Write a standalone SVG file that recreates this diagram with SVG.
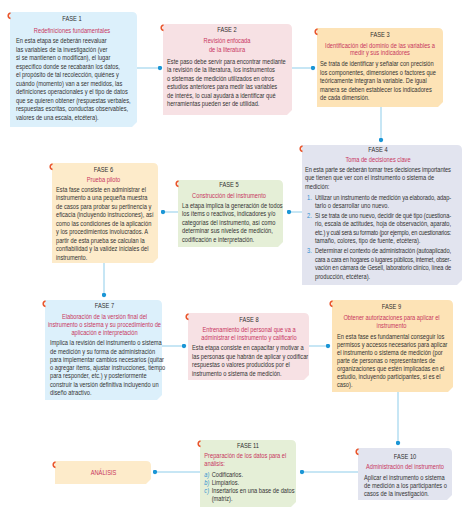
<svg xmlns="http://www.w3.org/2000/svg" width="466" height="512" viewBox="0 0 466 512">
<style>
.bg{fill:#ffffff}
.blue{fill:#dcf0fb}
.pink{fill:#f7e1e4}
.orange{fill:#fde3b6}
.cream{fill:#fdebca}
.lav{fill:#e2e4ef}
.green{fill:#e5efd7}
.tab{fill:none;stroke:#e9552b;stroke-width:1.6}
text{font-family:"Liberation Sans",Arial,sans-serif;font-size:7px}
.f{fill:#2e2e2e;text-anchor:middle}
.h{fill:#c8365e}
.hm{fill:#c8365e;text-anchor:middle}
.b{fill:#333333}
.n{fill:#2f8fd0}
.c{stroke:#8fcdea;stroke-width:1;fill:none;marker-end:url(#dot)}
</style>
<defs>
<marker id="dot" viewBox="0 0 6 6" refX="3" refY="3" markerWidth="5" markerHeight="5" markerUnits="userSpaceOnUse">
<circle cx="3" cy="3" r="2.6" fill="#1b96d6"/>
</marker>
</defs>
<rect class="bg" x="0" y="0" width="466" height="512"/>

<g id="connectors">
<line class="c" x1="137" y1="68" x2="160" y2="68"/>
<line class="c" x1="292" y1="68" x2="313" y2="68"/>
<line class="c" x1="381" y1="107" x2="381" y2="140"/>
<line class="c" x1="302" y1="212" x2="289" y2="212"/>
<line class="c" x1="178" y1="212" x2="163" y2="212"/>
<line class="c" x1="104" y1="263" x2="104" y2="295"/>
<line class="c" x1="162" y1="346" x2="184" y2="346"/>
<line class="c" x1="309" y1="346" x2="328" y2="346"/>
<line class="c" x1="398" y1="392" x2="398" y2="443"/>
<line class="c" x1="358" y1="472" x2="302" y2="472"/>
<line class="c" x1="200" y1="472" x2="155" y2="472"/>
</g>

<g id="fase1">
<path class="blue" d="M10 12 H132 Q137 12 137 17 V122 L132 127 H10 Z"/>
<path class="tab" d="M10.5 13 a2.8 2.8 0 0 0 0 5.5"/>
<g transform="translate(72,0) scale(0.815,1)">
<text class="f" x="0" y="21.5">FASE 1</text>
<text class="hm" x="0" y="33">Redefiniciones fundamentales</text>
</g>
<g transform="translate(16,0) scale(0.815,1)" class="b">
<text x="0" y="43.5">En esta etapa se deberán reevaluar</text>
<text x="0" y="52">las variables de la investigación (ver</text>
<text x="0" y="60.5">si se mantienen o modifican), el lugar</text>
<text x="0" y="69">específico donde se recabarán los datos,</text>
<text x="0" y="77.5">el propósito de tal recolección, quiénes y</text>
<text x="0" y="86">cuándo (momento) van a ser medidos, las</text>
<text x="0" y="94.5">definiciones operacionales y el tipo de datos</text>
<text x="0" y="103">que se quieren obtener (respuestas verbales,</text>
<text x="0" y="111.5">respuestas escritas, conductas observables,</text>
<text x="0" y="120">valores de una escala, etcétera).</text>
</g>
</g>

<g id="fase2">
<path class="pink" d="M163 24 H287 Q292 24 292 29 V110 L287 115 H163 Z"/>
<path class="tab" d="M163.5 25 a2.8 2.8 0 0 0 0 5.5"/>
<g transform="translate(227,0) scale(0.815,1)">
<text class="f" x="0" y="32.5">FASE 2</text>
<text class="hm" x="0" y="43.5">Revisión enfocada</text>
<text class="hm" x="0" y="52.5">de la literatura</text>
</g>
<g transform="translate(167,0) scale(0.815,1)" class="b">
<text x="0" y="64">Este paso debe servir para encontrar mediante</text>
<text x="0" y="72.5">la revisión de la literatura, los instrumentos</text>
<text x="0" y="81">o sistemas de medición utilizados en otros</text>
<text x="0" y="89.5">estudios anteriores para medir las variables</text>
<text x="0" y="98">de interés, lo cual ayudará a identificar qué</text>
<text x="0" y="106.5">herramientas pueden ser de utilidad.</text>
</g>
</g>

<g id="fase3">
<path class="orange" d="M317 28 H438 Q443 28 443 33 V102 L438 107 H317 Z"/>
<path class="tab" d="M317.5 29 a2.8 2.8 0 0 0 0 5.5"/>
<g transform="translate(380,0) scale(0.815,1)">
<text class="f" x="0" y="37">FASE 3</text>
<text class="hm" x="0" y="48">Identificación del dominio de las variables a</text>
<text class="hm" x="0" y="55.5">medir y sus indicadores</text>
</g>
<g transform="translate(320,0) scale(0.815,1)" class="b">
<text x="0" y="66.5">Se trata de identificar y señalar con precisión</text>
<text x="0" y="75">los componentes, dimensiones o factores que</text>
<text x="0" y="83.5">teóricamente integran la variable. De igual</text>
<text x="0" y="92">manera se deben establecer los indicadores</text>
<text x="0" y="100.5">de cada dimensión.</text>
</g>
</g>

<g id="fase4">
<path class="lav" d="M302 145 H457 Q462 145 462 150 V280 L457 285 H302 Z"/>
<path class="tab" d="M302.5 146 a2.8 2.8 0 0 0 0 5.5"/>
<g transform="translate(378,0) scale(0.815,1)">
<text class="f" x="0" y="152.5">FASE 4</text>
<text class="hm" x="0" y="162">Toma de decisiones clave</text>
</g>
<g transform="translate(305,0) scale(0.815,1)" class="b">
<text x="0" y="172" textLength="179" lengthAdjust="spacing">En esta parte se deberán tomar tres decisiones importantes</text>
<text x="0" y="180.5">que tienen que ver con el instrumento o sistema de</text>
<text x="0" y="189">medición:</text>
<text class="n" x="2.5" y="200">1.</text>
<text class="n" x="2.5" y="218">2.</text>
<text class="n" x="2.5" y="253.5">3.</text>
<text x="12.3" y="200" textLength="167" lengthAdjust="spacing">Utilizar un instrumento de medición ya elaborado, adap-</text>
<text x="12.3" y="208.5">tarlo o desarrollar uno nuevo.</text>
<text x="12.3" y="218" textLength="167" lengthAdjust="spacing">Si se trata de uno nuevo, decidir de qué tipo (cuestiona-</text>
<text x="12.3" y="226.5" textLength="167" lengthAdjust="spacing">rio, escala de actitudes, hoja de observación, aparato,</text>
<text x="12.3" y="235" textLength="167" lengthAdjust="spacing">etc.) y cuál será su formato (por ejemplo, en cuestionarios:</text>
<text x="12.3" y="243.5">tamaño, colores, tipo de fuente, etcétera).</text>
<text x="12.3" y="253.5" textLength="167" lengthAdjust="spacing">Determinar el contexto de administración (autoaplicado,</text>
<text x="12.3" y="262" textLength="167" lengthAdjust="spacing">cara a cara en hogares o lugares públicos, internet, obser-</text>
<text x="12.3" y="270.5" textLength="167" lengthAdjust="spacing">vación en cámara de Gesell, laboratorio clínico, línea de</text>
<text x="12.3" y="279">producción, etcétera).</text>
</g>
</g>

<g id="fase5">
<path class="green" d="M178 180 H278 Q283 180 283 185 V242 L278 247 H178 Z"/>
<path class="tab" d="M178.5 181 a2.8 2.8 0 0 0 0 5.5"/>
<g transform="translate(229,0) scale(0.815,1)">
<text class="f" x="0" y="187.5">FASE 5</text>
<text class="hm" x="0" y="198">Construcción del instrumento</text>
</g>
<g transform="translate(182,0) scale(0.815,1)" class="b">
<text x="0" y="208">La etapa implica la generación de todos</text>
<text x="0" y="216.5">los ítems o reactivos, indicadores y/o</text>
<text x="0" y="225">categorías del instrumento, así como</text>
<text x="0" y="233.5">determinar sus niveles de medición,</text>
<text x="0" y="242">codificación e interpretación.</text>
</g>
</g>

<g id="fase6">
<path class="cream" d="M52 163 H153 Q158 163 158 168 V258 L153 263 H52 Z"/>
<path class="tab" d="M52.5 164 a2.8 2.8 0 0 0 0 5.5"/>
<g transform="translate(103.5,0) scale(0.815,1)">
<text class="f" x="0" y="172">FASE 6</text>
<text class="hm" x="0" y="182">Prueba piloto</text>
</g>
<g transform="translate(56,0) scale(0.815,1)" class="b">
<text x="0" y="192">Esta fase consiste en administrar el</text>
<text x="0" y="200.5">instrumento a una pequeña muestra</text>
<text x="0" y="209">de casos para probar su pertinencia y</text>
<text x="0" y="217.5">eficacia (incluyendo instrucciones), así</text>
<text x="0" y="226">como las condiciones de la aplicación</text>
<text x="0" y="234.5">y los procedimientos involucrados. A</text>
<text x="0" y="243">partir de esta prueba se calculan la</text>
<text x="0" y="251.5">confiabilidad y la validez iniciales del</text>
<text x="0" y="260">instrumento.</text>
</g>
</g>

<g id="fase7">
<path class="blue" d="M45 300 H157 Q162 300 162 305 V395 L157 400 H45 Z"/>
<path class="tab" d="M45.5 301 a2.8 2.8 0 0 0 0 5.5"/>
<g transform="translate(104.5,0) scale(0.815,1)">
<text class="f" x="0" y="308">FASE 7</text>
<text class="hm" x="0" y="319">Elaboración de la versión final del</text>
<text class="hm" x="0" y="327">instrumento o sistema y su procedimiento de</text>
<text class="hm" x="0" y="335">aplicación e interpretación</text>
</g>
<g transform="translate(50,0) scale(0.815,1)" class="b">
<text x="0" y="345.5">Implica la revisión del instrumento o sistema</text>
<text x="0" y="354">de medición y su forma de administración</text>
<text x="0" y="362">para implementar cambios necesarios (quitar</text>
<text x="0" y="370.5">o agregar ítems, ajustar instrucciones, tiempo</text>
<text x="0" y="378.5">para responder, etc.) y posteriormente</text>
<text x="0" y="387">construir la versión definitiva incluyendo un</text>
<text x="0" y="395">diseño atractivo.</text>
</g>
</g>

<g id="fase8">
<path class="pink" d="M188 313 H304 Q309 313 309 318 V375 L304 380 H188 Z"/>
<path class="tab" d="M188.5 314 a2.8 2.8 0 0 0 0 5.5"/>
<g transform="translate(249,0) scale(0.815,1)">
<text class="f" x="0" y="322">FASE 8</text>
<text class="hm" x="0" y="332">Entrenamiento del personal que va a</text>
<text class="hm" x="0" y="340">administrar el instrumento y calificarlo</text>
</g>
<g transform="translate(192,0) scale(0.815,1)" class="b">
<text x="0" y="350.5">Esta etapa consiste en capacitar y motivar a</text>
<text x="0" y="359">las personas que habrán de aplicar y codificar</text>
<text x="0" y="367.5">respuestas o valores producidos por el</text>
<text x="0" y="376">instrumento o sistema de medición.</text>
</g>
</g>

<g id="fase9">
<path class="orange" d="M332 300 H448 Q453 300 453 305 V387 L448 392 H332 Z"/>
<path class="tab" d="M332.5 301 a2.8 2.8 0 0 0 0 5.5"/>
<g transform="translate(391.5,0) scale(0.815,1)">
<text class="f" x="0" y="309.5">FASE 9</text>
<text class="hm" x="0" y="320.5">Obtener autorizaciones para aplicar el</text>
<text class="hm" x="0" y="328.5">instrumento</text>
</g>
<g transform="translate(337,0) scale(0.815,1)" class="b">
<text x="0" y="339">En esta fase es fundamental conseguir los</text>
<text x="0" y="347">permisos y accesos necesarios para aplicar</text>
<text x="0" y="355">el instrumento o sistema de medición (por</text>
<text x="0" y="363">parte de personas o representantes de</text>
<text x="0" y="371">organizaciones que estén implicadas en el</text>
<text x="0" y="379">estudio, incluyendo participantes, si es el</text>
<text x="0" y="387">caso).</text>
</g>
</g>

<g id="fase10">
<path class="lav" d="M358 448 H447 Q452 448 452 453 V495 L447 500 H358 Z"/>
<path class="tab" d="M358.5 449 a2.8 2.8 0 0 0 0 5.5"/>
<g transform="translate(405,0) scale(0.815,1)">
<text class="f" x="0" y="459">FASE 10</text>
<text class="hm" x="0" y="469.5">Administración del instrumento</text>
</g>
<g transform="translate(364,0) scale(0.815,1)" class="b">
<text x="0" y="480.5">Aplicar el instrumento o sistema</text>
<text x="0" y="488.5">de medición a los participantes o</text>
<text x="0" y="496.5">casos de la investigación.</text>
</g>
</g>

<g id="fase11">
<path class="green" d="M200 440 H291 Q296 440 296 445 V502 L291 507 H200 Z"/>
<path class="tab" d="M200.5 441 a2.8 2.8 0 0 0 0 5.5"/>
<g transform="translate(248,0) scale(0.815,1)">
<text class="f" x="0" y="448">FASE 11</text>
</g>
<g transform="translate(204.3,0) scale(0.815,1)">
<text class="h" x="0" y="458.5">Preparación de los datos para el</text>
<text class="h" x="0" y="466.5">análisis:</text>
<text class="n" x="0" y="477" font-style="italic">a)</text>
<text class="n" x="0" y="485" font-style="italic">b)</text>
<text class="n" x="0" y="493" font-style="italic">c)</text>
<text class="b" x="9" y="477">Codificarlos.</text>
<text class="b" x="9" y="485">Limpiarlos.</text>
<text class="b" x="9" y="493">Insertarlos en una base de datos</text>
<text class="b" x="9" y="501">(matriz).</text>
</g>
</g>

<g id="analisis">
<path class="cream" d="M55 461 H146 Q151 461 151 466 V479 L146 484 H55 Z"/>
<path class="tab" d="M55.5 462 a2.8 2.8 0 0 0 0 5.5"/>
<g transform="translate(103.5,0) scale(0.815,1)">
<text class="hm" x="0" y="475" font-size="6.5">ANÁLISIS</text>
</g>
</g>
</svg>
